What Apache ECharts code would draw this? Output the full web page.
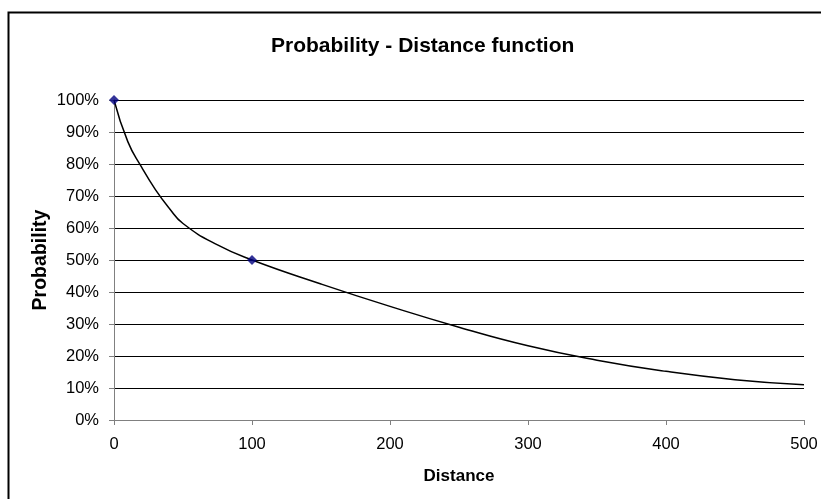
<!DOCTYPE html>
<html>
<head>
<meta charset="utf-8">
<script src="https://cdn.jsdelivr.net/npm/echarts@6/dist/echarts.min.js"></script>
<style>
html,body{margin:0;padding:0;background:#fff;}
#chart{width:821px;height:499px;}
</style>
</head>
<body>
<div id="chart"></div>
<script>
// Curve (distance, probability)
const curveX = [0, 10, 20, 30, 40, 50, 75, 100, 150, 200, 250, 300, 350, 400, 450, 500];
const curveY = [1.0, 0.87, 0.79, 0.72, 0.662, 0.614, 0.547, 0.5, 0.425, 0.355, 0.29, 0.232, 0.187, 0.152, 0.126, 0.11];
// Marked points
const markX = [0, 100];
const markY = [1.0, 0.5];
const titleText = 'Probability - Distance function';
const xName = 'Distance';
const yName = 'Probability';

const chart = echarts.init(document.getElementById('chart'), null, {renderer: 'canvas'});
const font = 'Arial, "Liberation Sans", sans-serif';
chart.setOption({
  animation: false,
  backgroundColor: '#fff',
  title: {
    text: titleText, left: 266, top: 31,
    textStyle: {fontFamily: font, fontSize: 21, fontWeight: 'bold', color: '#000'}
  },
  graphic: [{
    type: 'rect', left: 6, top: 10, z: -1,
    shape: {width: 840, height: 520},
    style: {fill: 'none', stroke: '#000', lineWidth: 2}
  }],
  grid: {left: 114, right: 17, top: 100, bottom: 79},
  xAxis: {
    type: 'value', min: 0, max: 500, interval: 100,
    name: xName, nameLocation: 'middle', nameGap: 48,
    nameTextStyle: {fontFamily: font, fontSize: 17, fontWeight: 'bold', color: '#000'},
    axisLine: {show: true, lineStyle: {color: '#808080', width: 1}},
    axisTick: {show: true, length: 5, inside: false, lineStyle: {color: '#808080'}},
    axisLabel: {fontFamily: font, fontSize: 16.5, color: '#000', margin: 16},
    splitLine: {show: false}
  },
  yAxis: {
    type: 'value', min: 0, max: 1, interval: 0.1,
    name: yName, nameLocation: 'middle', nameGap: 63, nameRotate: 90,
    nameMoveOverlap: false,
    nameTextStyle: {fontFamily: font, fontSize: 19.5, fontWeight: 'bold', color: '#000'},
    axisLine: {show: true, lineStyle: {color: '#808080', width: 1}},
    axisTick: {show: true, length: 5, lineStyle: {color: '#808080'}},
    axisLabel: {fontFamily: font, fontSize: 16.5, color: '#000', margin: 15,
      formatter: v => Math.round(v * 100) + '%'},
    splitLine: {show: true, lineStyle: {color: '#000', width: 1}}
  },
  series: [{
    type: 'line', smooth: 0.5, showSymbol: false, symbol: 'none',
    data: curveX.map((x, i) => [x, curveY[i]]),
    lineStyle: {color: '#000', width: 1.5}, z: 3
  }, {
    type: 'scatter', symbol: 'diamond', symbolSize: 10,
    data: markX.map((x, i) => [x, markY[i]]),
    itemStyle: {color: '#000080'}, z: 4
  }]
});
</script>
</body>
</html>
